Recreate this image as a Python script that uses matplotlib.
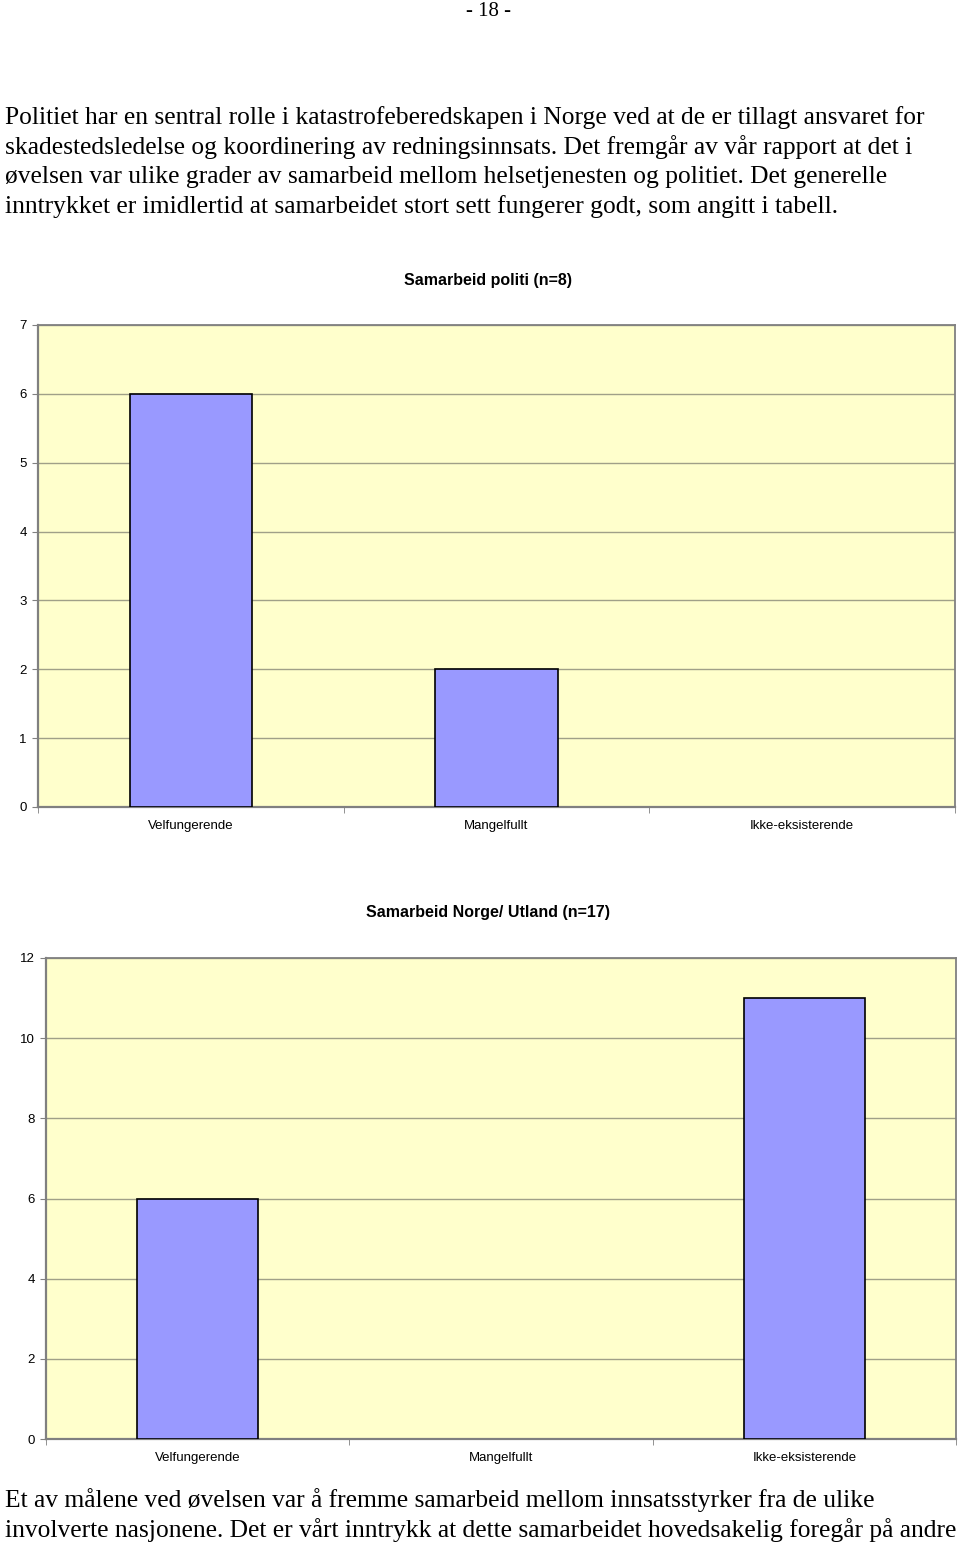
import matplotlib
matplotlib.use("Agg")
import matplotlib.pyplot as plt
import numpy as np

categories = ["Velfungerende", "Mangelfullt", "Ikke-eksisterende"]
politi_values = [6, 2, 0]
utland_values = [6, 0, 11]
politi_title = "Samarbeid politi (n=8)"
utland_title = "Samarbeid Norge/ Utland (n=17)"
politi_yticks = [0, 1, 2, 3, 4, 5, 6, 7]
utland_yticks = [0, 2, 4, 6, 8, 10, 12]

top_lines = [
    "Politiet har en sentral rolle i katastrofeberedskapen i Norge ved at de er tillagt ansvaret for",
    "skadestedsledelse og koordinering av redningsinnsats. Det fremgår av vår rapport at det i",
    "øvelsen var ulike grader av samarbeid mellom helsetjenesten og politiet. Det generelle",
    "inntrykket er imidlertid at samarbeidet stort sett fungerer godt, som angitt i tabell.",
]
bottom_lines = [
    "Et av målene ved øvelsen var å fremme samarbeid mellom innsatsstyrker fra de ulike",
    "involverte nasjonene. Det er vårt inntrykk at dette samarbeidet hovedsakelig foregår på andre",
]

W, H = 960, 1546
fig = plt.figure(figsize=(W / 100, H / 100), dpi=100)
fig.patch.set_facecolor("white")

SERIF = "Liberation Serif"
SANS = "Liberation Sans"

def px_ax(l, t, r, b):
    return fig.add_axes([l / W, 1 - b / H, (r - l) / W, (b - t) / H])

def draw_chart(ax, values, title, yticks, title_y):
    x = np.arange(len(categories))
    ax.set_facecolor("#FFFFCC")
    edges = ["black" if v > 0 else "none" for v in values]
    ax.bar(x, values, width=0.4, color="#9999FF", edgecolor=edges, linewidth=1.2, zorder=3)
    ax.set_xlim(-0.5, len(categories) - 0.5)
    ax.set_ylim(yticks[0], yticks[-1])
    ax.set_yticks(yticks)
    ax.set_yticklabels([str(v) for v in yticks], fontsize=9.5, family=SANS)
    ax.set_xticks(x)
    ax.set_xticklabels(categories, fontsize=9.5, family=SANS)
    ax.set_xticks(np.arange(-0.5, len(categories), 1.0), minor=True)
    ax.tick_params(axis="x", which="major", length=0, pad=9.5)
    ax.tick_params(axis="x", which="minor", length=4, color="#808080", direction="out")
    ax.tick_params(axis="y", length=4, color="#808080", direction="out", pad=4)
    ax.grid(axis="y", color="#A0A088", linewidth=1.0, zorder=1)
    for s in ax.spines.values():
        s.set_color("#808080")
        s.set_linewidth(1.3)
    ax.spines["left"].set_linewidth(1.6)
    ax.spines["bottom"].set_linewidth(1.6)
    ax.set_axisbelow(True)
    fig.text(488 / W, 1 - title_y / H, title,
             ha="center", va="center", fontsize=11.5, fontweight="bold", family=SANS)

ax1 = px_ax(38, 325, 955, 807)
draw_chart(ax1, politi_values, politi_title, politi_yticks, 280)
ax2 = px_ax(46, 958, 956, 1439)
draw_chart(ax2, utland_values, utland_title, utland_yticks, 912)

fig.text(488 / W, 1 - 11 / H, "- 18 -", ha="center", va="center", fontsize=15, family=SERIF)

for i, line in enumerate(top_lines):
    fig.text(5 / W, 1 - (118 + i * 29.5) / H, line, ha="left", va="center", fontsize=18.4, family=SERIF)
for i, line in enumerate(bottom_lines):
    fig.text(5 / W, 1 - (1500 + i * 30) / H, line, ha="left", va="center", fontsize=18.4, family=SERIF)

fig.savefig("out.png", dpi=100, facecolor="white")
